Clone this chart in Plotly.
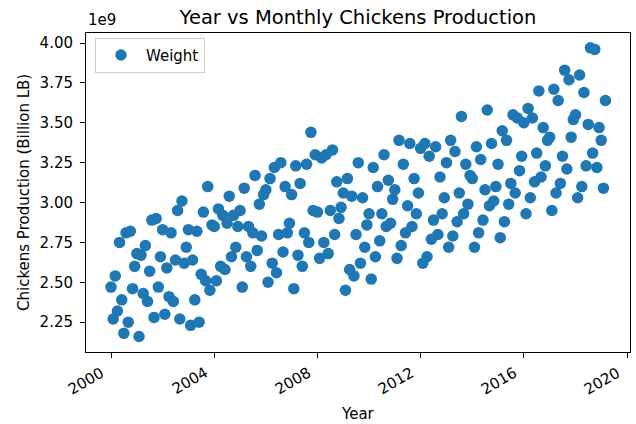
import plotly.graph_objects as go

years = list(range(2000, 2020))

# Monthly chicken production (billion lb)
p2000 = [2.47, 2.27, 2.54, 2.32, 2.75, 2.39, 2.18, 2.81, 2.25, 2.82, 2.46, 2.60]
p2001 = [2.68, 2.16, 2.67, 2.43, 2.73, 2.38, 2.57, 2.89, 2.28, 2.90, 2.47, 2.66]
p2002 = [2.83, 2.30, 2.59, 2.41, 2.81, 2.38, 2.64, 2.95, 2.27, 3.01, 2.62, 2.72]
p2003 = [2.83, 2.23, 2.64, 2.39, 2.82, 2.25, 2.55, 2.94, 2.51, 3.10, 2.45, 2.86]
p2004 = [2.85, 2.51, 2.96, 2.60, 2.92, 2.58, 2.87, 3.04, 2.66, 2.92, 2.72, 2.85]
p2005 = [2.95, 2.47, 3.09, 2.66, 2.85, 2.60, 2.81, 3.17, 2.70, 2.99, 2.79, 3.05]
p2006 = [3.08, 2.50, 3.15, 2.62, 3.22, 2.56, 2.80, 3.25, 2.69, 3.10, 2.81, 2.87]
p2007 = [3.05, 2.46, 3.23, 2.67, 3.12, 2.60, 2.81, 3.24, 2.75, 3.44, 2.95, 3.30]
p2008 = [2.94, 2.65, 3.28, 2.75, 3.30, 2.68, 2.95, 3.33, 2.80, 3.13, 2.90, 2.97]
p2009 = [3.06, 2.45, 3.15, 2.58, 3.04, 2.54, 2.80, 3.25, 2.62, 3.03, 2.72, 2.86]
p2010 = [2.93, 2.52, 3.22, 2.66, 3.10, 2.76, 2.93, 3.30, 2.85, 3.14, 2.87, 3.02]
p2011 = [3.08, 2.65, 3.39, 2.73, 3.24, 2.81, 2.98, 3.37, 2.85, 3.15, 2.93, 3.06]
p2012 = [3.34, 2.62, 3.37, 2.66, 3.29, 2.77, 2.89, 3.35, 2.80, 3.16, 2.93, 3.03]
p2013 = [3.25, 2.72, 3.39, 2.79, 3.32, 2.88, 3.06, 3.54, 2.93, 3.24, 2.99, 3.17]
p2014 = [3.15, 2.72, 3.35, 2.81, 3.27, 2.89, 3.08, 3.58, 2.98, 3.37, 3.01, 3.10]
p2015 = [3.24, 2.78, 3.45, 2.88, 3.39, 2.99, 3.12, 3.55, 3.06, 3.53, 3.20, 3.29]
p2016 = [3.50, 2.93, 3.59, 3.03, 3.53, 3.13, 3.31, 3.70, 3.16, 3.47, 3.23, 3.39]
p2017 = [3.41, 2.95, 3.71, 3.06, 3.64, 3.12, 3.29, 3.83, 3.21, 3.77, 3.41, 3.52]
p2018 = [3.55, 3.03, 3.80, 3.10, 3.69, 3.23, 3.49, 3.97, 3.31, 3.96, 3.22, 3.47]
p2019 = [3.39, 3.09, 3.64]

production = [p2000, p2001, p2002, p2003, p2004, p2005, p2006, p2007, p2008, p2009,
              p2010, p2011, p2012, p2013, p2014, p2015, p2016, p2017, p2018, p2019]

tick_years = [2000, 2004, 2008, 2012, 2016, 2020]
y_ticks = [2.25, 2.50, 2.75, 3.00, 3.25, 3.50, 3.75, 4.00]

dates, values = [], []
for yr, vals in zip(years, production):
    for m, v in enumerate(vals):
        dates.append(f"{yr}-{m + 1:02d}-01")
        values.append(v)

FONT = "DejaVu Sans"
BLUE = "#1f77b4"
FS = 15

fig = go.Figure()
fig.add_trace(go.Scatter(
    x=dates, y=values, mode="markers", name="Weight",
    marker=dict(color=BLUE, size=11.5, line=dict(width=0)),
))

fig.update_layout(
    width=636, height=424,
    margin=dict(l=86, r=6, t=33, b=72, autoexpand=False),
    plot_bgcolor="white", paper_bgcolor="white",
    font=dict(family=FONT, size=FS, color="black"),
    title=dict(text="Year vs Monthly Chickens Production", x=(86 + 272) / 636, xanchor="center",
               y=1 - 17.5 / 424, yanchor="middle", font=dict(size=19.5)),
    showlegend=True,
    legend=dict(x=0.0165, y=0.985, xanchor="left", yanchor="top",
                bordercolor="#cccccc", borderwidth=1, bgcolor="rgba(255,255,255,0.8)",
                font=dict(size=FS), itemwidth=40),
)

fig.update_xaxes(
    type="date", range=["1999-01-12", "2020-02-12"],
    tickvals=[f"{y}-01-01" for y in tick_years],
    showticklabels=False, automargin=False,
    ticks="outside", ticklen=5, tickcolor="black",
    showline=True, linecolor="black", linewidth=1, mirror=True,
    showgrid=False, zeroline=False,
)
fig.update_yaxes(
    range=[2.063, 4.063], automargin=False,
    tickvals=y_ticks, tickformat=".2f",
    ticks="outside", ticklen=5, tickcolor="black", ticklabelstandoff=4,
    showline=True, linecolor="black", linewidth=1, mirror=True,
    showgrid=False, zeroline=False,
    tickfont=dict(size=FS),
)

# rotated x tick labels (right edge at the tick, like matplotlib autofmt_xdate)
for y in tick_years:
    fig.add_annotation(text=str(y), x=f"{y}-01-01", xref="x", y=0, yref="paper",
                       xanchor="right", yanchor="top", textangle=-30,
                       xshift=-1, yshift=-9, showarrow=False, font=dict(size=FS))

# axis titles
fig.add_annotation(text="Year", xref="paper", yref="paper", x=0.5, y=0,
                   xanchor="center", yanchor="middle", yshift=-61.5,
                   showarrow=False, font=dict(size=FS))
fig.add_annotation(text="Chickens Production (Billion LB)", xref="paper", yref="paper",
                   x=0, y=0.5, xanchor="center", yanchor="middle", xshift=-62.5,
                   textangle=-90, showarrow=False, font=dict(size=FS))

# offset text
fig.add_annotation(text="1e9", xref="paper", yref="paper", x=0, y=1,
                   xanchor="left", yanchor="bottom", yshift=2, showarrow=False,
                   font=dict(size=FS))

# remove the page's default 8px body margin so the figure sits at the window corner
fig.write_html("out.html", config={"displayModeBar": False},
               post_script="document.body.style.margin='0px';")
